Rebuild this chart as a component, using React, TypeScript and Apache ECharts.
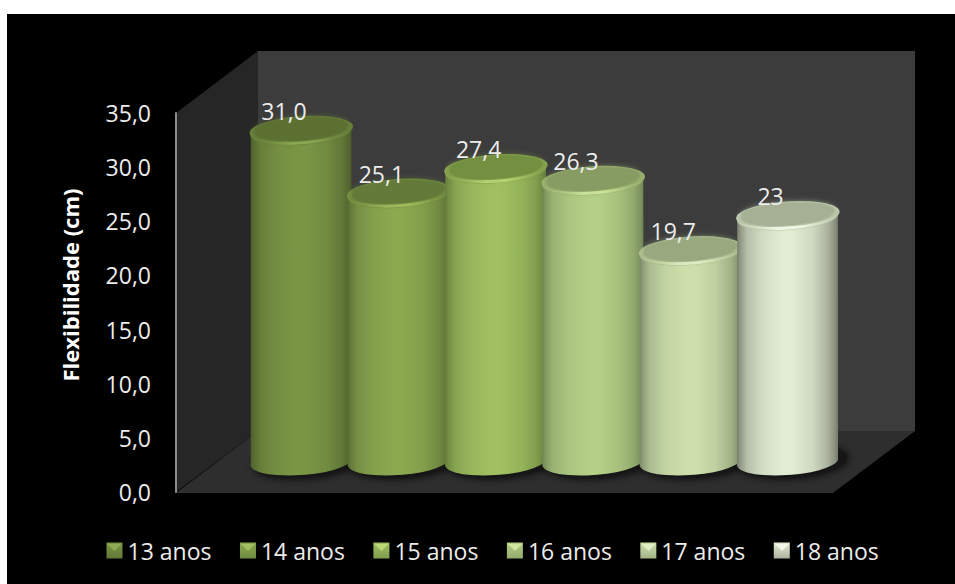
import React, { useEffect, useRef } from "react";
import * as echarts from "echarts";

// Flexibility by age group, drawn as a PowerPoint-style 3D cylinder chart.
const ages = ["13 anos", "14 anos", "15 anos", "16 anos", "17 anos", "18 anos"];
const flexibility = [31.0, 25.1, 27.4, 26.3, 19.7, 23];
const valueLabels = ["31,0", "25,1", "27,4", "26,3", "19,7", "23"];

const sideLight = ["#7a9645", "#8ca94f", "#a0c061", "#b4cf86", "#cde0ab", "#e3edd3"];
const sideEdge = ["#4a5b2a", "#566a33", "#627b3a", "#708455", "#788667", "#73796a"];
const capFace = ["#5b6f33", "#637a38", "#738f41", "#879c62", "#98a87f", "#a5b094"];
const capRim = ["#8fab55", "#a2c05f", "#bbd975", "#d0e89c", "#e0eec6", "#f3f7ea"];

const FONT = "Open Sans";
const TEXT = "#ececec";
const TILT = (4 * Math.PI) / 180;
const TILT_DEG = -4;
const RX = 50.5;
const RY = 13.2;

function mix(a: string, b: string, t: number) {
  const p = (s: string, i: number) => parseInt(s.slice(1 + i * 2, 3 + i * 2), 16);
  const c = [0, 1, 2].map((i) => Math.round(p(a, i) + (p(b, i) - p(a, i)) * t));
  return `rgb(${c[0]},${c[1]},${c[2]})`;
}

function ellipsePath(cx: number, cy: number, a: number, b: number) {
  const dx = a * Math.cos(TILT);
  const dy = a * Math.sin(TILT);
  return `M${cx - dx} ${cy + dy}A${a} ${b} ${TILT_DEG} 0 0 ${cx + dx} ${cy - dy}A${a} ${b} ${TILT_DEG} 0 0 ${cx - dx} ${cy + dy}Z`;
}

// Thin lit crescent along the front of a cap.
function crescentPath(cx: number, cy: number, a: number, b: number, inner: number) {
  const dx = a * Math.cos(TILT);
  const dy = a * Math.sin(TILT);
  return `M${cx - dx} ${cy + dy}A${a} ${b} ${TILT_DEG} 0 0 ${cx + dx} ${cy - dy}A${a} ${inner} ${TILT_DEG} 0 1 ${cx - dx} ${cy + dy}Z`;
}

function bodyPath(cx: number, top: number, base: number) {
  const dx = RX * Math.cos(TILT);
  const dy = RX * Math.sin(TILT);
  return `M${cx - dx} ${top + dy}L${cx - dx} ${base + dy}A${RX} ${RY} ${TILT_DEG} 0 0 ${cx + dx} ${base - dy}L${cx + dx} ${top - dy}Z`;
}

function cylinder(i: number) {
  return (_params: any, api: any) => {
    const [cx, top] = api.coord([api.value(0), api.value(1)]);
    const [, base] = api.coord([api.value(0), 0]);
    const light = sideLight[i];
    const edge = sideEdge[i];
    const rimColor = mix(light, capRim[i], 0.75);
    const capBase = mix(capFace[i], light, 0.4);
    return {
      type: "group",
      children: [
        {
          type: "path",
          z2: -5,
          shape: { pathData: ellipsePath(cx + 6, base + 1, RX + 2, RY + 1) },
          style: { fill: "#161616", shadowBlur: 10, shadowColor: "#111111" },
        },
        {
          type: "path",
          z2: i * 10,
          shape: { pathData: bodyPath(cx, top, base) },
          style: {
            fill: {
              type: "linear", x: 0, y: 0, x2: 1, y2: 0,
              colorStops: [
                { offset: 0, color: edge },
                { offset: 0.03, color: mix(edge, light, 0.25) },
                { offset: 0.1, color: mix(edge, light, 0.6) },
                { offset: 0.25, color: mix(edge, light, 0.85) },
                { offset: 0.45, color: light },
                { offset: 0.55, color: light },
                { offset: 0.75, color: mix(edge, light, 0.82) },
                { offset: 0.9, color: mix(edge, light, 0.5) },
                { offset: 0.97, color: mix(edge, light, 0.2) },
                { offset: 1, color: edge },
              ],
            },
          },
        },
        {
          type: "path",
          z2: i * 10 + 1,
          shape: { pathData: ellipsePath(cx, top, RX, RY) },
          style: { fill: capBase },
        },
        {
          type: "path",
          z2: i * 10 + 2,
          shape: { pathData: ellipsePath(cx - 0.5, top - 1.5, RX - 5, RY - 3) },
          style: { fill: capFace[i], shadowBlur: 6, shadowColor: capFace[i] },
        },
        {
          type: "path",
          z2: i * 10 + 3,
          shape: { pathData: crescentPath(cx, top - 0.4, RX - 1, RY, RY - 1.8) },
          style: {
            fill: {
              type: "linear", x: 0, y: 0, x2: 1, y2: 0,
              colorStops: [
                { offset: 0, color: capBase },
                { offset: 0.22, color: mix(capFace[i], light, 0.8) },
                { offset: 0.42, color: rimColor },
                { offset: 0.62, color: rimColor },
                { offset: 0.85, color: mix(capFace[i], light, 0.7) },
                { offset: 1, color: capBase },
              ],
            },
          },
        },
        {
          type: "text",
          z2: 100,
          x: cx - 17,
          y: top - 19,
          style: {
            text: valueLabels[i],
            fill: TEXT,
            font: `23px "${FONT}"`,
            align: "center",
            verticalAlign: "middle",
          },
        },
      ],
    };
  };
}

// Bevel highlight on top of each legend swatch.
const swatchBevels = ages.map((_, i) => {
  const x = 106.5 + i * 133.5;
  return {
    type: "polygon",
    z: 10,
    shape: { points: [[x + 1, 544], [x + 15, 544], [x + 8, 551]] },
    style: { fill: capRim[i] },
  };
});

export default function App() {
  const ref = useRef<HTMLDivElement>(null);
  useEffect(() => {
    document.body.style.margin = "0";
    const chart = echarts.init(ref.current!, undefined, { renderer: "svg" });
    chart.setOption({
      animation: false,
      backgroundColor: "#ffffff",
      textStyle: { fontFamily: FONT },
      graphic: [
        { type: "rect", z: -3, shape: { x: 7, y: 14, width: 948, height: 570 }, style: { fill: "#000000" } },
        { type: "rect", z: -2, shape: { x: 258, y: 51, width: 657, height: 380 }, style: { fill: "#3c3c3c" } },
        { type: "polygon", z: -2, shape: { points: [[176, 113], [258, 51], [258, 431], [176, 492]] }, style: { fill: "#262626" } },
        { type: "polygon", z: -2, shape: { points: [[176, 493], [258, 431], [915, 431], [833, 493]] }, style: { fill: "#2e2e2e" } },
        ...swatchBevels,
      ],
      grid: [
        { left: 176, top: 113, width: 658, height: 379 },
        { left: 252.4, top: 87.25, width: 583.8, height: 372.75 },
      ],
      xAxis: [
        { type: "category", gridIndex: 0, show: false, data: ages },
        { type: "category", gridIndex: 1, show: false, data: ages, boundaryGap: true },
      ],
      yAxis: [
        {
          type: "value",
          gridIndex: 0,
          min: 0,
          max: 35,
          interval: 5,
          name: "Flexibilidade (cm)",
          nameLocation: "middle",
          nameGap: 95,
          nameRotate: 90,
          nameTextStyle: {
            color: "#ffffff",
            fontWeight: "bold",
            fontSize: 22,
            fontFamily: FONT,
            padding: [0, 0, 0, 35],
          },
          axisLine: { show: true, lineStyle: { color: "#8c8c8c", width: 2 } },
          axisTick: { show: false },
          splitLine: { show: false },
          axisLabel: {
            color: TEXT,
            fontSize: 23,
            fontFamily: FONT,
            margin: 25,
            formatter: (v: number) => v.toFixed(1).replace(".", ","),
          },
        },
        { type: "value", gridIndex: 1, min: 0, max: 35, show: false, splitLine: { show: false } },
      ],
      legend: {
        left: 106.5,
        top: 539,
        padding: 0,
        itemWidth: 16,
        itemHeight: 16,
        itemGap: 28.5,
        selectedMode: false,
        icon: "rect",
        textStyle: { color: TEXT, fontSize: 23, fontFamily: FONT },
        data: ages.map((name, i) => ({
          name,
          itemStyle: {
            color: {
              type: "linear", x: 0, y: 0, x2: 0, y2: 1,
              colorStops: [
                { offset: 0, color: sideLight[i] },
                { offset: 1, color: mix(sideEdge[i], sideLight[i], 0.5) },
              ],
            },
          },
        })),
      },
      series: ages.map((name, i) => ({
        type: "custom",
        name,
        xAxisIndex: 1,
        yAxisIndex: 1,
        coordinateSystem: "cartesian2d",
        encode: { x: 0, y: 1 },
        data: [[i, flexibility[i]]],
        renderItem: cylinder(i),
        itemStyle: { color: sideLight[i] },
        clip: false,
      })),
    });
    return () => chart.dispose();
  }, []);
  return <div ref={ref} style={{ width: 955, height: 584 }} />;
}
